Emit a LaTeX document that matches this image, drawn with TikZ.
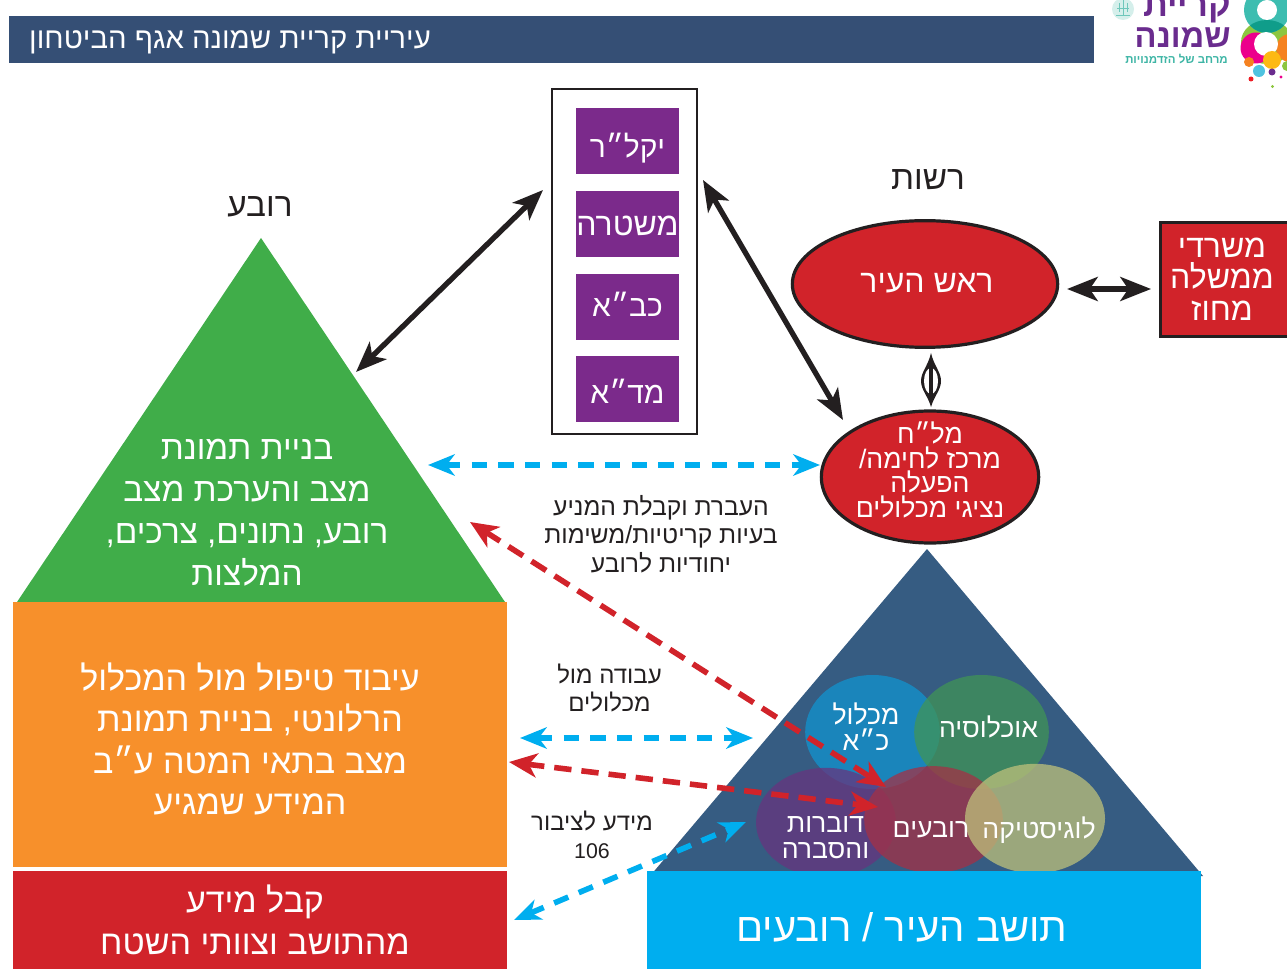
\documentclass[tikz,border=0pt]{standalone}
\usepackage{fontspec}
\usetikzlibrary{arrows.meta,shapes.geometric}
\newfontfamily\hebfont[Script=Hebrew]{Liberation Sans}
\TeXXeTstate=1
\newcommand\rl[1]{\beginR #1\endR}
\newcommand\fsz[2]{\hebfont\fontsize{#1}{#2}\selectfont}
\newcommand\fsb[2]{\hebfont\bfseries\fontsize{#1}{#2}\selectfont}
\definecolor{hdr}{HTML}{354F75}
\definecolor{grn}{HTML}{40AD49}
\definecolor{org}{HTML}{F7902B}
\definecolor{rd}{HTML}{D1232A}
\definecolor{cyn}{HTML}{00AEEF}
\definecolor{nvy}{HTML}{365C82}
\definecolor{prp}{HTML}{7B2A8B}
\definecolor{ink}{HTML}{231F20}
\definecolor{logop}{HTML}{6A2C8E}
\definecolor{logot}{HTML}{3EB5A5}
\definecolor{logoteal}{HTML}{3DBDB0}
\definecolor{logodark}{HTML}{0F9D8A}
\definecolor{logogrn}{HTML}{8DC63F}
\definecolor{logoorg}{HTML}{F58220}
\definecolor{logomag}{HTML}{EC008C}
\definecolor{logoyel}{HTML}{FDB913}
\definecolor{logoblu}{HTML}{4FC3E0}
\definecolor{logored}{HTML}{ED1C24}
\tikzset{
  wt/.style={text=white,align=center,inner sep=0pt},
  bk/.style={text=ink,align=center,inner sep=0pt},
  agency/.style={fill=prp,minimum width=77.25pt,minimum height=49.5pt,inner sep=0pt},
  redell/.style={ellipse,draw=ink,line width=2.4pt,fill=rd,inner sep=0pt},
  blob/.style={ellipse,inner sep=0pt,fill opacity=.75},
  solidarr/.style={draw=ink,line width=4pt,{Stealth[length=23pt,width=18pt,inset=6pt]}-{Stealth[length=23pt,width=18pt,inset=6pt]}},
  cyarr/.style={draw=cyn,line width=4.2pt,dash pattern=on 11.5pt off 8.5pt,{Stealth[length=20pt,width=16pt,inset=6pt]}-{Stealth[length=20pt,width=16pt,inset=6pt]}},
  rdarr/.style={draw=rd,line width=4.2pt,dash pattern=on 13pt off 7.5pt,{Stealth[length=21pt,width=18pt,inset=6pt]}-{Stealth[length=21pt,width=18pt,inset=6pt]}},
}
\begin{document}
\begin{tikzpicture}[x=.75pt,y=-.75pt]
\useasboundingbox (0,0) rectangle (1287,969);
\clip (0,0) rectangle (1287,969);
% header
\fill[hdr] (9,16) rectangle (1094,63);
\node[wt,anchor=east,font=\fsz{22}{25}] (hd) at (431,42) {\rl{עיריית קריית שמונה אגף הביטחון}};
% logo
\fill[logot!22] (1123,9) circle (11);
\draw[logot!75,line width=.6pt] (1116,15) -- (1130,15) (1123,0) -- (1123,15) (1117,8) -- (1129,8) (1119,3) -- (1119,12) (1127,3) -- (1127,12);
\node[inner sep=0pt,text=logop,anchor=east,font=\fsb{26}{28}] (l1) at (1231,9) {\rl{קריית}};
\node[inner sep=0pt,text=logop,anchor=east,font=\fsb{24.5}{28}] (l2) at (1231,38) {\rl{שמונה}};
\node[inner sep=0pt,text=logot,anchor=east,font=\fsb{8.6}{10}] (l3) at (1228,59) {\rl{מרחב של הזדמנויות}};
\fill[logogrn] (1267,42) ellipse (26 and 22);
\fill[logoteal] (1267,10) circle (23);
\begin{scope}
\clip (1267,10) circle (23);
\fill[logodark] (1267,42) ellipse (26 and 22);
\end{scope}
\fill[white] (1267,10) circle (10);
\fill[logoorg] (1290,48) circle (14);
\fill[logomag] (1256,48) circle (15.5);
\fill[white] (1266,44) circle (12);
\fill[logoyel] (1272,60) circle (9);
\fill[logoorg] (1249,62) circle (5);
\fill[logoblu] (1259,71) circle (6);
\fill[logop] (1272,72) circle (3.5);
\fill[logored] (1251,79) circle (2.5);
\fill[logomag] (1281,77) circle (1.7);
\fill[logogrn] (1272.5,86.5) circle (1.7);
\fill[logogrn] (1287,66) circle (5);
% titles
\node[bk,font=\fsz{25}{30}] (rova) at (260,207) {\rl{רובע}};
\node[bk,font=\fsz{25}{30}] (rashut) at (928,180) {\rl{רשות}};
% green triangle
\fill[grn] (261,238) -- (505,602) -- (17,602) -- cycle;
\node[wt,font=\fsz{25}{31.5}] (gtxt) at (247,513) {\rl{בניית תמונת}\\\rl{מצב והערכת מצב}\\\rl{רובע, נתונים, צרכים,}\\\rl{המלצות}};
% orange
\fill[org] (13,602) rectangle (507,867);
\node[wt,font=\fsz{25.5}{31}] (otxt) at (250,739) {\rl{עיבוד טיפול מול המכלול}\\\rl{הרלונטי, בניית תמונת}\\\rl{מצב בתאי המטה ע״ב}\\\rl{המידע שמגיע}};
% red bottom
\fill[rd] (13,871) rectangle (507,969);
\node[wt,font=\fsz{25.5}{31.5}] (rtxt) at (255,920) {\rl{קבל מידע}\\\rl{מהתושב וצוותי השטח}};
% agencies box
\draw[ink,line width=2pt] (552,89) rectangle (697,434);
\node[agency] (a1) at (627.5,141) {};
\node[agency] (a2) at (627.5,224) {};
\node[agency] (a3) at (627.5,307) {};
\node[agency] (a4) at (627.5,389) {};
\node[wt,font=\fsz{22.5}{28}] (a1t) at (627.5,148) {\rl{יקל״ר}};
\node[wt,font=\fsz{24}{28}] (a2t) at (627.5,226) {\rl{משטרה}};
\node[wt,font=\fsz{22.5}{28}] (a3t) at (627.5,304) {\rl{כב״א}};
\node[wt,font=\fsz{22.5}{28}] (a4t) at (627.5,391) {\rl{מד״א}};
% ellipses
\node[redell,minimum width=199pt,minimum height=95pt] (mayor) at (925,284) {};
\node[wt,font=\fsz{24}{28}] (mayort) at (927,283) {\rl{ראש העיר}};
\node[redell,minimum width=163pt,minimum height=99pt] (malach) at (930,477) {};
\node[wt,font=\fsz{20}{18.5}] (malachtxt) at (930,470) {\rl{מל״ח}\\\rl{מרכז לחימה/}\\\rl{הפעלה}\\\rl{נציגי מכלולים}};
\node[draw=ink,line width=2.2pt,fill=rd,minimum width=99pt,minimum height=86pt,inner sep=0pt] (gov) at (1226.5,279.5) {};
\node[wt,font=\fsz{24}{23.5}] (govtxt) at (1222,279) {\rl{משרדי}\\\rl{ממשלה}\\\rl{מחוז}};
% navy triangle
\fill[nvy] (927,549) -- (1203,876) -- (650,876) -- cycle;
\node[blob,fill={rgb,255:red,17;green,148;blue,207},minimum width=101pt,minimum height=85.5pt] (b1) at (872.5,732) {};
\node[blob,fill={rgb,255:red,64;green,148;blue,87},minimum width=101pt,minimum height=85.5pt] (b2) at (981.5,732) {};
\node[blob,fill={rgb,255:red,103;green,53;blue,126},minimum width=105pt,minimum height=82pt] (b3) at (826,822.5) {};
\node[blob,fill={rgb,255:red,163;green,49;blue,70},minimum width=104pt,minimum height=80pt] (b4) at (933.5,819.5) {};
\node[blob,fill={rgb,255:red,190;green,193;blue,123},minimum width=105pt,minimum height=82pt] (b5) at (1035,818.5) {};
\node[wt,font=\fsz{20}{19.5}] (t1) at (866,726.5) {\rl{מכלול}\\\rl{כ״א}};
\node[wt,font=\fsz{20}{24}] (t2) at (988.5,727) {\rl{אוכלוסיה}};
\node[wt,font=\fsz{20}{19.5}] (t3) at (825.5,838) {\rl{דוברות}\\\rl{והסברה}};
\node[wt,font=\fsz{20}{24}] (t4) at (931,830) {\rl{רובעים}};
\node[wt,font=\fsz{20}{24}] (t5) at (1039,830) {\rl{לוגיסטיקה}};
% resident
\fill[cyn] (647,871) rectangle (1201,969);
\node[wt,font=\fsz{30}{32}] (res) at (902,927) {\rl{תושב העיר / רובעים}};
% labels
\node[bk,font=\fsz{18.5}{21.4}] (q1) at (661,534) {\rl{העברת וקבלת המניע}\\\rl{בעיות קריטיות/משימות}\\\rl{יחודיות לרובע}};
\node[bk,font=\fsz{18}{21.5}] (q2) at (609.5,688) {\rl{עבודה מול}\\\rl{מכלולים}};
\node[bk,font=\fsz{18}{21.5}] (q3) at (592,835) {\rl{מידע לציבור}\\{\fontsize{16}{21.5}\selectfont 106}};
% connector ends
\coordinate (p1a) at (543,190);
\coordinate (p1b) at (356,372);
\coordinate (p2a) at (703,180);
\coordinate (p2b) at (843,420);
\coordinate (p3a) at (1067,289);
\coordinate (p3b) at (1151,289);
\coordinate (c1a) at (428,465);
\coordinate (c1b) at (820,465);
\coordinate (c2a) at (520,738);
\coordinate (c2b) at (753,738);
\coordinate (c3a) at (514,920);
\coordinate (c3b) at (746,822);
\coordinate (r1a) at (470,522);
\coordinate (r1b) at (886,787);
\coordinate (r2a) at (509,762);
\coordinate (r2b) at (878,807);
\draw[solidarr] (p1a) -- (p1b);
\draw[solidarr] (p2a) -- (p2b);
\draw[solidarr] (p3a) -- (p3b);
\draw[cyarr] (c1a) -- (c1b);
\draw[cyarr] (c2a) -- (c2b);
\draw[cyarr] (c3a) -- (c3b);
\draw[rdarr] (r1a) -- (r1b);
\draw[rdarr] (r2a) -- (r2b);
% vertical double arrow
\coordinate (v1) at (931,353);
\coordinate (v2) at (931,407);
\fill[ink] (v1) .. controls (934,366) and (941,372) .. (941,381) .. controls (941,390) and (934,396) .. (v2) .. controls (928,396) and (921,390) .. (921,381) .. controls (921,372) and (928,366) .. (v1) -- cycle;
\fill[white] (931,381) ellipse (7 and 13);
\draw[ink,line width=2.6pt] (931,366) -- (931,396);
\end{tikzpicture}
\end{document}
